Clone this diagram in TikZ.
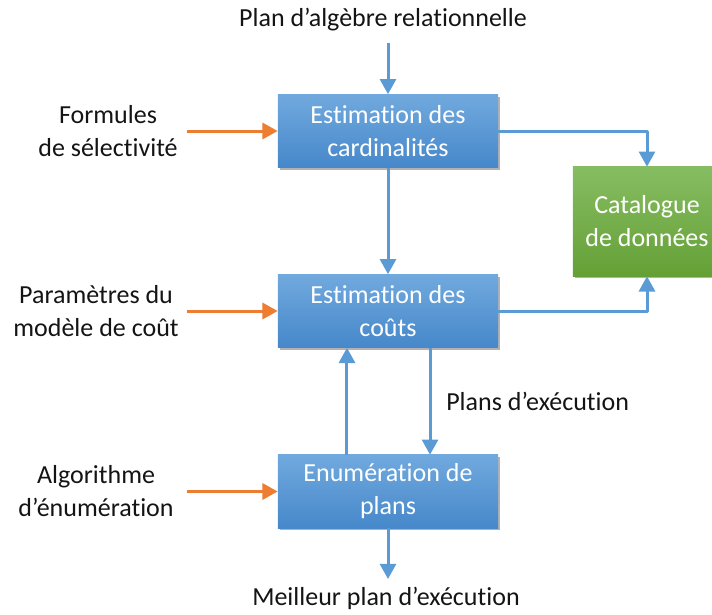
\documentclass[tikz,border=0pt]{standalone}
\usepackage{fontspec}
\setmainfont{Carlito}[Ligatures=NoCommon]
\usetikzlibrary{arrows.meta,shadows}
\definecolor{bleu}{RGB}{91,155,213}
\definecolor{bleuH}{RGB}{113,169,222}
\definecolor{bleuB}{RGB}{70,136,202}
\definecolor{vertH}{RGB}{134,189,98}
\definecolor{vertB}{RGB}{101,160,54}
\definecolor{orangeF}{RGB}{237,125,49}
\definecolor{texte}{RGB}{20,20,20}
\tikzset{
	boite/.style={rectangle, minimum width=5.5cm, minimum height=1.825cm, inner sep=0pt,
		top color=bleuH, bottom color=bleuB, text=white, align=center,
		drop shadow={shadow xshift=0.4mm, shadow yshift=-0.6mm, opacity=0.3, fill=black}},
	catalogue/.style={boite, minimum width=3.7cm, minimum height=2.725cm, top color=vertH, bottom color=vertB},
	etiq/.style={text=texte, align=center, inner sep=0pt},
	fleche/.style={draw=bleu, line width=0.075cm, -{Triangle[width=0.4cm, length=0.38cm]}},
	entree/.style={draw=orangeF, line width=0.075cm, -{Triangle[width=0.4cm, length=0.38cm]}}
}
\begin{document}
\begin{tikzpicture}[x=0.025cm, y=-0.025cm, font=\fontsize{18.5}{23.5}\selectfont, line join=round]
	\useasboundingbox (0,0) rectangle (712,614);
	% boites principales
	\node[boite] (card) at (388,131) {Estimation des\\cardinalités};
	\node[boite] (cout) at (388,311) {Estimation des\\coûts};
	\node[boite] (enum) at (388,491.5) {Enumération de\\plans};
	\node[catalogue] (cat) at (647,221.5) {Catalogue\\de données};
	% textes
	\node[etiq] (plan) at (383,20) {Plan d’algèbre relationnelle};
	\node[etiq] (best) at (386,598) {Meilleur plan d’exécution};
	\node[etiq, anchor=west] (plex) at (446,401) {Plans d’exécution};
	\path (388,43) coordinate (haut) (388,579) coordinate (bas);
	% fleches bleues
	\draw[fleche] (haut) -- (card.north);
	\draw[fleche] (card) -- (cout);
	\draw[fleche] (card.east) -| (cat.north);
	\draw[fleche] (cout.east) -| (cat.south);
	\draw[fleche] ([xshift=-1.025cm]enum.north) -- ([xshift=-1.025cm]cout.south);
	\draw[fleche] ([xshift=1.05cm]cout.south) -- ([xshift=1.05cm]enum.north);
	\draw[fleche] (enum) -- (bas);
	% entrees a gauche
	\foreach \n/\b/\x/\t in {form/card/108/{Formules\\de sélectivité}, para/cout/96/{Paramètres du\\modèle de coût}, algo/enum/96/{Algorithme\\d’énumération}}{
		\node[etiq] (\n) at (\x,0 |- \b) {\t};
		\draw[entree] (\b.west) ++(-91,0) coordinate (\n-e) -- (\b.west);}
\end{tikzpicture}
\end{document}
